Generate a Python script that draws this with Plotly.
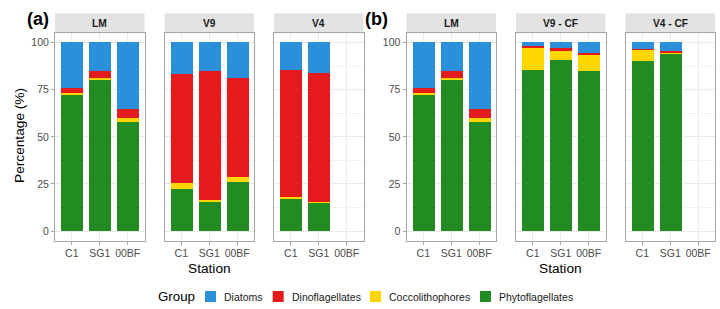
import plotly.graph_objects as go

# ---------------- data ----------------
stations = ["C1", "SG1", "00BF"]
panel_titles = ["LM", "V9", "V4", "LM", "V9 - CF", "V4 - CF"]
panel_groups = ["a", "a", "a", "b", "b", "b"]
group_names = ["Diatoms", "Dinoflagellates", "Coccolithophores", "Phytoflagellates"]
group_colors = ["#2B8FDA", "#E41A1C", "#FFD700", "#228B22"]

phytoflagellates = [[72.3, 80.5, 57.5], [22.0, 15.8, 26.0], [17.0, 15.0, None],
                    [72.3, 80.5, 57.5], [85.5, 90.7, 84.6], [90.0, 93.8, None]]
coccolithophores = [[1.0, 0.5, 2.3], [3.5, 0.5, 2.7], [1.0, 0.3, None],
                    [1.0, 0.5, 2.3], [12.0, 4.8, 9.2], [6.3, 1.1, None]]
dinoflagellates = [[2.3, 4.0, 4.6], [58.0, 68.3, 52.3], [67.5, 68.5, None],
                   [2.3, 4.0, 4.6], [0.5, 1.6, 0.4], [0.4, 0.5, None]]
diatoms = [[24.4, 15.0, 35.6], [16.5, 15.4, 19.0], [14.5, 16.2, None],
           [24.4, 15.0, 35.6], [2.0, 2.9, 5.8], [3.3, 4.6, None]]

series = {"Diatoms": diatoms, "Dinoflagellates": dinoflagellates,
          "Coccolithophores": coccolithophores, "Phytoflagellates": phytoflagellates}

# ---------------- layout helpers ----------------
W, H = 720, 309
def px(x):
    return x / W
def py(y):
    return (H - y) / H

panel_x = [(55, 144.5), (164.5, 254), (274, 363.5),
           (406.5, 496), (516, 605.5), (625.5, 715)]
plot_top, plot_bot = 33.3, 240.5
strip_top = 13.3

FONT = "Liberation Sans, Arial, Helvetica, sans-serif"
TICK = 10.5
fig = go.Figure()

# stacking order: bottom first
stack_order = ["Phytoflagellates", "Coccolithophores", "Dinoflagellates", "Diatoms"]
for i in range(6):
    xa = "x" if i == 0 else f"x{i+1}"
    ya = "y" if i == 0 else f"y{i+1}"
    for g in stack_order:
        col = group_colors[group_names.index(g)]
        fig.add_trace(go.Bar(
            x=stations, y=series[g][i], name=g, xaxis=xa, yaxis=ya,
            marker=dict(color=col, line=dict(width=0)), width=0.8,
            showlegend=False, hovertemplate=g + ": %{y}<extra></extra>"))

layout = dict(
    width=W, height=H, barmode="stack", bargap=0,
    margin=dict(l=0, r=0, t=0, b=0),
    paper_bgcolor="white", plot_bgcolor="white",
    font=dict(family=FONT, size=10, color="#4D4D4D"),
    showlegend=False,
)
for i in range(6):
    xk = "xaxis" if i == 0 else f"xaxis{i+1}"
    yk = "yaxis" if i == 0 else f"yaxis{i+1}"
    yref = "y" if i == 0 else f"y{i+1}"
    xref = "x" if i == 0 else f"x{i+1}"
    x0, x1 = panel_x[i]
    layout[xk] = dict(
        domain=[px(x0), px(x1)], anchor=yref, type="category",
        categoryorder="array", categoryarray=stations,
        range=[-0.6, 2.6], showgrid=True, gridcolor="#EBEBEB", gridwidth=1,
        showline=True, mirror=True, linecolor="#A6A6A6", linewidth=1,
        ticks="outside", ticklen=3, tickcolor="#A6A6A6",
        tickfont=dict(size=TICK, color="#4D4D4D", family=FONT),
        zeroline=False, fixedrange=True)
    show_labels = i in (0, 3)
    layout[yk] = dict(
        domain=[py(plot_bot), py(plot_top)], anchor=xref,
        range=[-5, 105], tickvals=[0, 25, 50, 75, 100],
        showticklabels=show_labels,
        showgrid=True, gridcolor="#EBEBEB", gridwidth=1,
        minor=dict(dtick=12.5, tick0=12.5, showgrid=True, gridcolor="#F4F4F4",
                   gridwidth=1, ticks=""),
        showline=True, mirror=True, linecolor="#A6A6A6", linewidth=1,
        ticks="outside" if show_labels else "", ticklen=3, tickcolor="#A6A6A6",
        tickfont=dict(size=TICK, color="#4D4D4D", family=FONT),
        zeroline=False, fixedrange=True)
fig.update_layout(**layout)

shapes = []
annotations = []
# strips
for i in range(6):
    x0, x1 = panel_x[i]
    shapes.append(dict(type="rect", xref="paper", yref="paper",
                       x0=px(x0), x1=px(x1), y0=py(plot_top), y1=py(strip_top),
                       fillcolor="#E3E3E3", line=dict(width=0), layer="below"))
    annotations.append(dict(text="<b>" + panel_titles[i] + "</b>", xref="paper", yref="paper",
                            x=px((x0 + x1) / 2), y=py((strip_top + plot_top) / 2),
                            xanchor="center", yanchor="middle", showarrow=False,
                            font=dict(size=10.2, color="#1A1A1A", family=FONT)))

# panel labels
annotations.append(dict(text="<b>(a)</b>", xref="paper", yref="paper", x=px(38), y=py(19),
                        xanchor="center", yanchor="middle", showarrow=False,
                        font=dict(size=18, color="black", family=FONT)))
annotations.append(dict(text="<b>(b)</b>", xref="paper", yref="paper", x=px(376), y=py(19),
                        xanchor="center", yanchor="middle", showarrow=False,
                        font=dict(size=18, color="black", family=FONT)))
# axis titles
annotations.append(dict(text="Percentage (%)", xref="paper", yref="paper", x=px(19), y=py(136),
                        xanchor="center", yanchor="middle", textangle=-90, showarrow=False,
                        font=dict(size=13.7, color="black", family=FONT)))
for (a, b) in [(0, 2), (3, 5)]:
    cx = (panel_x[a][0] + panel_x[b][1]) / 2
    annotations.append(dict(text="Station", xref="paper", yref="paper", x=px(cx), y=py(268),
                            xanchor="center", yanchor="middle", showarrow=False,
                            font=dict(size=13.7, color="black", family=FONT)))

# legend (drawn manually for ggplot-like compact spacing)
leg_y = 296.5
annotations.append(dict(text="Group", xref="paper", yref="paper", x=px(156), y=py(leg_y),
                        xanchor="left", yanchor="middle", showarrow=False,
                        font=dict(size=13.3, color="black", family=FONT)))
key_x = [205, 272.7, 370, 480]
for k, name in enumerate(group_names):
    kx = key_x[k]
    shapes.append(dict(type="rect", xref="paper", yref="paper",
                       x0=px(kx), x1=px(kx + 11), y0=py(leg_y + 5.5), y1=py(leg_y - 5.5),
                       fillcolor=group_colors[k], line=dict(width=0)))
    annotations.append(dict(text=name, xref="paper", yref="paper", x=px(kx + 17), y=py(leg_y),
                            xanchor="left", yanchor="middle", showarrow=False,
                            font=dict(size=10.5, color="#1A1A1A", family=FONT)))

fig.update_layout(shapes=shapes, annotations=annotations)
fig.write_html("out.html")
